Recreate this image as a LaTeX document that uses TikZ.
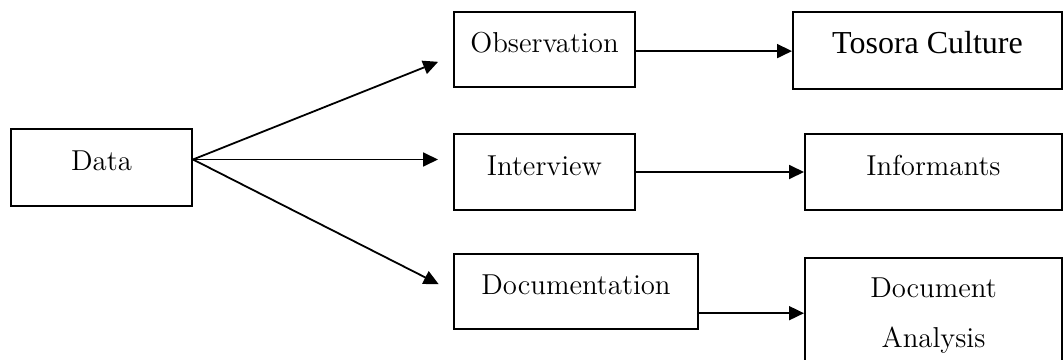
\documentclass[tikz,border=0pt]{standalone}
\usepackage{fontspec}
\usepackage{tikz}
\usetikzlibrary{arrows.meta, positioning, calc}
\newfontfamily\timesfont{Liberation Serif}

\begin{document}
\begin{tikzpicture}[
    x=0.5pt, y=-0.5pt,
    box/.style={draw, line width=1pt, align=center, inner sep=2pt,
        font=\fontsize{14.4}{25}\selectfont, text height=10pt, text depth=7pt},
    arrow/.style={-{Triangle[length=7.5pt, width=7pt]}, line width=0.9pt},
]
    \useasboundingbox (0,0) rectangle (1064,359);

    % Source
    \node[box, minimum width=90.5pt, minimum height=38.5pt] (data) at (101.5, 167.5) {Data};

    % Methods
    \node[box, minimum width=90.5pt, minimum height=37.5pt] (obs) at (544.5, 49.5) {Observation};
    \node[box, minimum width=90.5pt, minimum height=38pt] (int) at (544.5, 172) {Interview};
    \node[box, minimum width=122pt, minimum height=37.5pt] (doc) at (576, 291.5) {Documentation};

    % Sources of each method
    \node[box, minimum width=134.5pt, minimum height=38.5pt, font=\timesfont\fontsize{16}{19}\selectfont] (tos) at (927.5, 50.5) {Tosora Culture};
    \node[box, minimum width=128.5pt, minimum height=38pt] (inf) at (933.5, 172) {Informants};
    \node[box, minimum width=128.5pt, minimum height=58pt, text height=, text depth=] (docan) at (933.5, 316) {Document\\Analysis};

    \draw[arrow, shorten >=8pt] (data.5) -- (obs.184);
    \draw[arrow, shorten >=7.5pt] (data.5) -- (data.5 -| int.west);
    \draw[arrow, shorten >=8pt] (data.5) -- (doc.west);
    \draw[arrow] (obs.-1.6) -- (obs.-1.6 -| tos.west);
    \draw[arrow] (int.east) -- (int.east -| inf.west);
    \draw[arrow] (doc.-10) -- (doc.-10 -| docan.west);
\end{tikzpicture}
\end{document}
